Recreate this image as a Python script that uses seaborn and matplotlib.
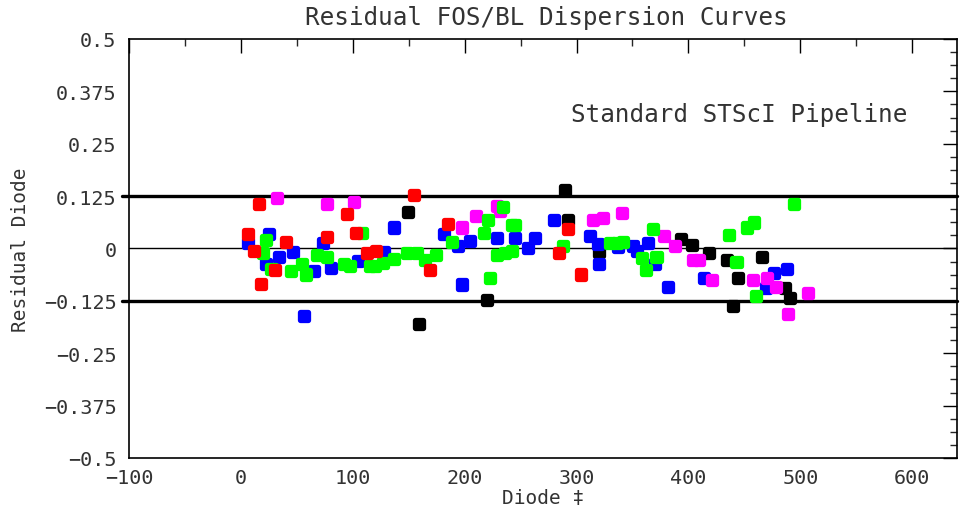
import numpy as np
import pandas as pd
import matplotlib
matplotlib.use("Agg")
import matplotlib.pyplot as plt
import seaborn as sns
from matplotlib.ticker import MultipleLocator, FixedLocator

# ---- data ----
red_x = [16.4, 94.5, 6.5, 40.2, 11.6, 77.2, 30.4, 17.6, 154.7, 102.8, 112.4, 120.4,
         184.8, 169.0, 292.6, 284.6, 304.0]
red_y = [0.106, 0.082, 0.034, 0.016, -0.006, 0.028, -0.052, -0.084, 0.128, 0.038, -0.010,
         -0.006, 0.059, -0.052, 0.046, -0.010, -0.062]

blue_x = [6.5, 25.3, 34.2, 46.8, 73.6, 22.3, 65.3, 80.2, 56.3, 136.8, 181.7, 194.3, 128.1,
          104.3, 197.3, 204.7, 228.6, 245.0, 262.8, 256.8, 279.8, 312.0, 319.4, 320.0, 337.3,
          350.7, 353.7, 364.1, 370.1, 382.0, 414.0, 476.5, 487.8, 469.3]
blue_y = [0.014, 0.034, -0.020, -0.008, 0.014, -0.038, -0.054, -0.046, -0.161, 0.050, 0.034,
          0.006, -0.008, -0.030, -0.086, 0.018, 0.024, 0.024, 0.024, 0.002, 0.067, 0.030,
          0.010, -0.036, 0.004, 0.006, -0.006, 0.014, -0.038, -0.092, -0.071, -0.058, -0.050,
          -0.095]

black_x = [149.6, 159.1, 289.6, 292.6, 220.2, 320.0, 393.4, 402.9, 418.6, 465.5, 434.2,
           444.6, 486.3, 490.8, 439.6]
black_y = [0.087, -0.180, 0.139, 0.067, -0.122, -0.008, 0.022, 0.008, -0.010, -0.020, -0.028,
           -0.071, -0.095, -0.119, -0.138]

magenta_x = [31.9, 77.2, 101.3, 197.3, 228.6, 231.5, 210.1, 315.0, 323.9, 340.9, 378.4, 388.0,
             404.4, 409.7, 420.8, 457.5, 470.0, 478.3, 507.2, 489.3]
magenta_y = [0.120, 0.106, 0.110, 0.050, 0.102, 0.090, 0.078, 0.067, 0.072, 0.084, 0.030,
             0.006, -0.028, -0.028, -0.076, -0.076, -0.070, -0.092, -0.106, -0.157]

green_x = [22.3, 19.9, 68.2, 76.6, 27.4, 44.7, 54.3, 58.1, 92.1, 107.9, 188.4, 97.4, 115.3,
           119.8, 127.2, 137.0, 148.1, 157.1, 164.5, 174.1, 234.5, 221.1, 242.0, 245.0, 217.2,
           288.1, 228.6, 236.0, 242.0, 223.0, 329.9, 335.9, 341.8, 368.6, 358.2, 371.5, 361.8,
           494.4, 458.6, 452.0, 436.5, 443.0, 460.4]
green_y = [0.020, -0.010, -0.016, -0.020, -0.050, -0.054, -0.036, -0.062, -0.036, 0.038, 0.016,
           -0.042, -0.042, -0.042, -0.034, -0.026, -0.010, -0.010, -0.028, -0.016, 0.098, 0.067,
           0.055, 0.055, 0.038, 0.006, -0.016, -0.010, -0.006, -0.071, 0.014, 0.014, 0.016,
           0.046, -0.022, -0.020, -0.052, 0.106, 0.062, 0.050, 0.032, -0.032, -0.114]

limit_lines = [0.125, -0.125]
y_ticks = [0.5, 0.375, 0.25, 0.125, 0, -0.125, -0.25, -0.375, -0.5]
y_tick_labels = ["0.5", "0.375", "0.25", "0.125", "0", "\u22120.125", "\u22120.25", "\u22120.375", "\u22120.5"]
x_ticks = [-100, 0, 100, 200, 300, 400, 500, 600]

series = {"black": (black_x, black_y), "blue": (blue_x, blue_y),
          "magenta": (magenta_x, magenta_y), "green": (green_x, green_y),
          "red": (red_x, red_y)}
palette = {"black": "#000000", "blue": "#0000ff", "magenta": "#ff00ff",
           "green": "#00ff00", "red": "#ff0000"}

frames = [pd.DataFrame({"diode": xs, "resid": ys, "set": name}) for name, (xs, ys) in series.items()]
df = pd.concat(frames, ignore_index=True)

sns.set_style("white")
plt.rcParams["font.family"] = ["DejaVu Sans Mono", "DejaVu Sans"]

fig = plt.figure(figsize=(9.61, 5.10), dpi=100)
ax = fig.add_axes([0.1342, 0.10, 0.9958 - 0.1342, 0.9216 - 0.10])

ax.axhline(0, color="black", lw=1.0, zorder=1)
for v in limit_lines:
    ax.axhline(v, xmin=-0.008, xmax=1.0, color="black", lw=2.4, zorder=1, clip_on=False)

sns.scatterplot(data=df, x="diode", y="resid", hue="set", palette=palette,
                hue_order=list(series.keys()), marker="s", s=34, linewidth=3.8,
                edgecolor="face", legend=False, ax=ax, zorder=3)
for coll in ax.collections:
    coll.set_joinstyle("round")

ax.set_xlim(-100, 640)
ax.set_ylim(-0.5, 0.5)
ax.xaxis.set_major_locator(FixedLocator(x_ticks))
ax.xaxis.set_minor_locator(MultipleLocator(50))
ax.yaxis.set_major_locator(FixedLocator(y_ticks))
ax.yaxis.set_minor_locator(MultipleLocator(0.03125))
ax.set_yticklabels(y_tick_labels)
ax.tick_params(axis="both", which="major", direction="in", length=10, width=1.0,
               top=True, right=True, labelsize=14.5, colors="black")
ax.tick_params(axis="both", which="minor", direction="in", length=5, width=1.0,
               top=True, right=True)
ax.tick_params(axis="x", which="major", pad=7)
ax.tick_params(axis="y", which="major", pad=9)
for lbl in ax.get_xticklabels() + ax.get_yticklabels():
    lbl.set_color("#333333")
for sp in ax.spines.values():
    sp.set_visible(True)
    sp.set_color("black")
    sp.set_linewidth(1.2)

ax.set_xlabel("Diode \u2021", fontsize=14, labelpad=1, color="#333333")
ax.set_ylabel("Residual Diode", fontsize=14, labelpad=10, color="#333333")
ax.text(295, 0.322, "Standard STScI Pipeline", fontsize=17.5, ha="left", va="center",
        color="#333333")
fig.text(546 / 961, 1 - 18 / 510, "Residual FOS/BL Dispersion Curves", fontsize=17.5,
         ha="center", va="center", color="#333333")

fig.savefig("out.png", dpi=100, facecolor="white")
